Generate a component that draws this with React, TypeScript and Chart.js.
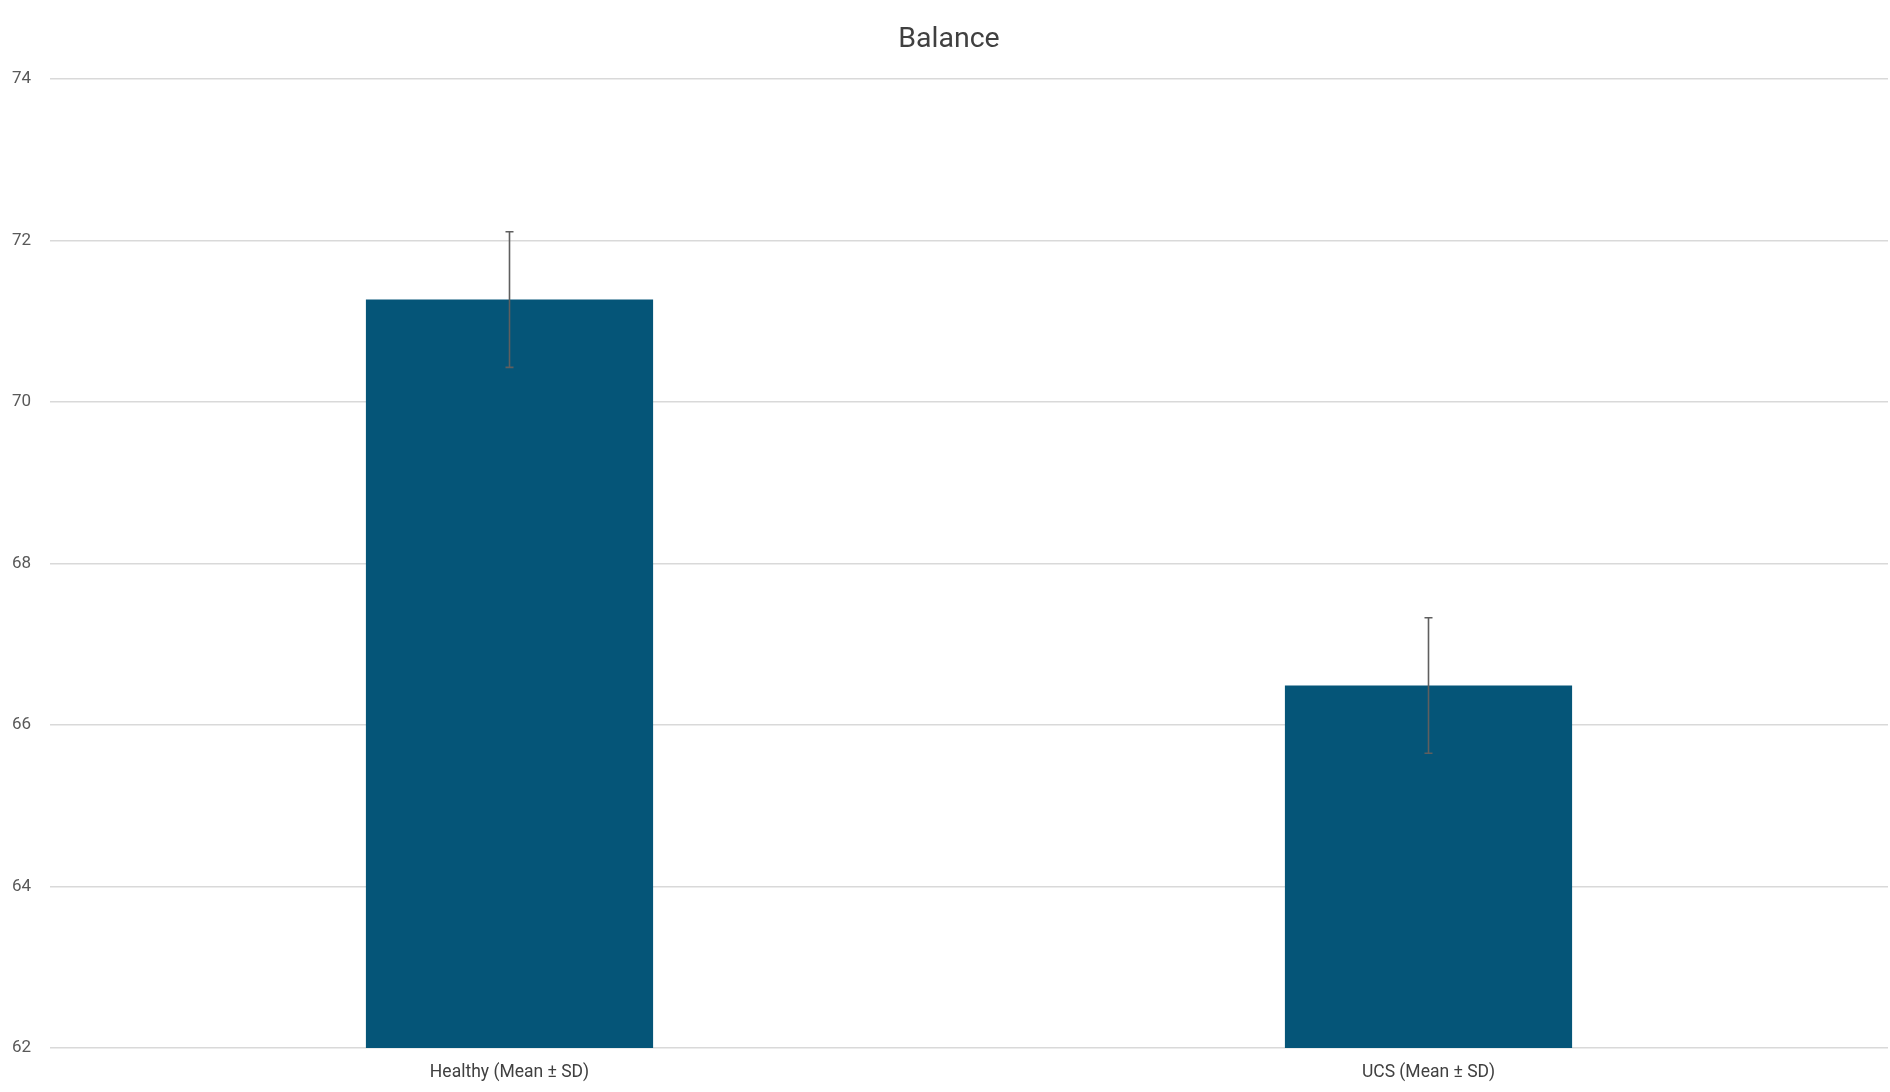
import { useEffect, useRef } from 'react'
import { Chart, registerables } from 'chart.js'

Chart.register(...registerables)

const categories = ['Healthy (Mean ± SD)', 'UCS (Mean ± SD)']
const means = [71.27, 66.49]
const sds = [0.84, 0.84]
const yTicks = [62, 64, 66, 68, 70, 72, 74]

const barColor = '#055578'

// draws the ± SD whiskers on top of the bars
const errorBarPlugin = {
  id: 'errorBars',
  afterDatasetsDraw(chart: any) {
    const { ctx } = chart
    const yScale = chart.scales.y
    const meta = chart.getDatasetMeta(0)
    ctx.save()
    ctx.strokeStyle = '#5f5f5f'
    ctx.lineWidth = 1.6
    meta.data.forEach((bar: any, i: number) => {
      const x = bar.x
      const top = yScale.getPixelForValue(means[i] + sds[i])
      const bottom = yScale.getPixelForValue(means[i] - sds[i])
      ctx.beginPath()
      ctx.moveTo(x, top)
      ctx.lineTo(x, bottom)
      ctx.moveTo(x - 4, top)
      ctx.lineTo(x + 4, top)
      ctx.moveTo(x - 4, bottom)
      ctx.lineTo(x + 4, bottom)
      ctx.stroke()
    })
    ctx.restore()
  },
}

export default function App() {
  const canvasRef = useRef<HTMLCanvasElement>(null)

  useEffect(() => {
    document.body.style.margin = '0'
    if (!canvasRef.current) return

    const chart = new Chart(canvasRef.current, {
      type: 'bar',
      data: {
        labels: categories,
        datasets: [
          {
            label: 'Balance',
            data: means,
            backgroundColor: barColor,
            borderWidth: 0,
            barPercentage: 0.3125,
            categoryPercentage: 1,
          },
        ],
      },
      options: {
        responsive: false,
        animation: false,
        layout: {
          padding: { left: 10, right: 2, top: 0, bottom: 0 },
        },
        plugins: {
          legend: { display: false },
          tooltip: { enabled: false },
          title: {
            display: true,
            text: 'Balance',
            color: '#404040',
            font: { family: 'Roboto', size: 28.5, weight: 'normal' },
            padding: { top: 23, bottom: 22 },
          },
        },
        scales: {
          x: {
            grid: { display: false },
            border: { display: false },
            ticks: {
              color: '#404040',
              font: { family: 'Roboto', size: 17.5 },
              padding: 6,
            },
            afterFit: (axis: any) => {
              axis.height = 44
              axis.paddingLeft = 0
              axis.paddingRight = 0
            },
          },
          y: {
            min: 62,
            max: 74,
            afterBuildTicks: (axis: any) => {
              axis.ticks = yTicks.map(v => ({ value: v }))
            },
            grid: { color: '#d9d9d9', lineWidth: 1.5, drawTicks: false },
            border: { display: false },
            ticks: {
              color: '#595959',
              font: { family: 'Roboto', size: 17 },
              padding: 19,
            },
            afterFit: (axis: any) => {
              axis.width = 40
              axis.paddingTop = 0
              axis.paddingBottom = 0
            },
          },
        },
      },
      plugins: [errorBarPlugin],
    })

    return () => chart.destroy()
  }, [])

  return (
    <div style={{ width: 1890, height: 1092, background: '#fff' }}>
      <canvas ref={canvasRef} width={1890} height={1092} />
    </div>
  )
}
